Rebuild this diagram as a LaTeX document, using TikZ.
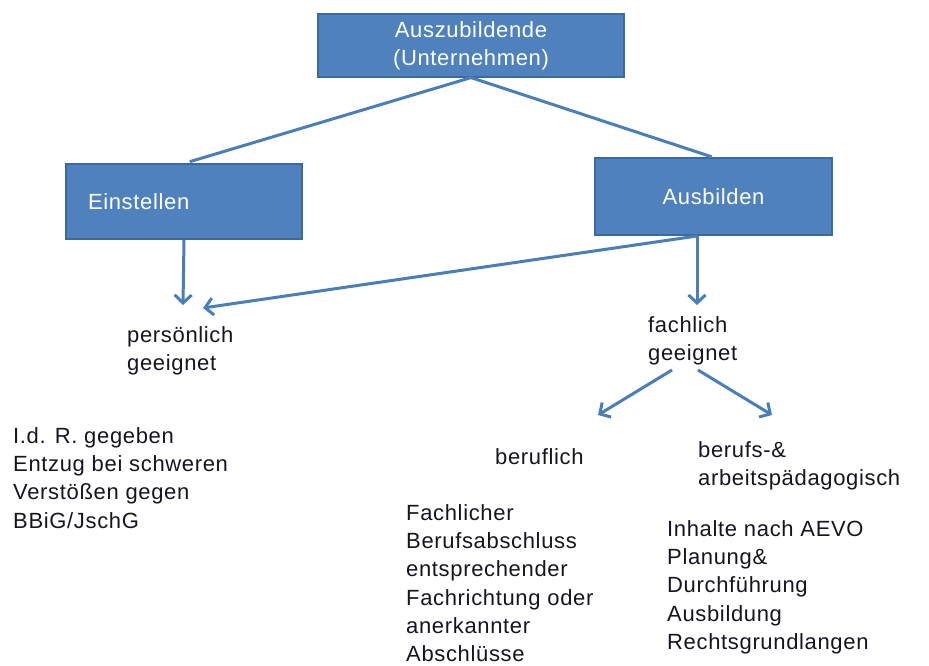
\documentclass[tikz,border=0pt]{standalone}
\usepackage{fontspec}
\setmainfont{Liberation Sans}[LetterSpace=3]
\usetikzlibrary{arrows.meta}
\definecolor{kastenblau}{HTML}{4F81BD}
\definecolor{randblau}{HTML}{3C69A0}
\definecolor{linienblau}{HTML}{4A7EBB}
\definecolor{schrift}{HTML}{151520}
\newcommand{\gross}{\fontsize{22}{28.3}\selectfont}

\tikzset{
  kasten/.style={draw=randblau, line width=1.2pt, fill=kastenblau, text=white,
    font=\gross, align=center, inner sep=0pt},
  txt/.style={anchor=north west, inner sep=0pt, align=left, text=schrift, font=\gross},
  linie/.style={draw=linienblau, line width=3pt},
  pfeil/.style={linie, ->}
}

\begin{document}
\begin{tikzpicture}[x=1pt,y=-1pt,>={Straight Barb[length=8pt,width=17pt]}]
\useasboundingbox (0,0) rectangle (929,666);

% Kaesten
\node[kasten, minimum width=306pt, minimum height=63pt] (azubi) at (471,45.5)
  {Auszubildende\\(Unternehmen)};
\node[kasten, minimum width=236pt, minimum height=75pt, text width=192pt,
  align=left, inner xsep=22pt] (ein) at (184,201.5) {Einstellen};
\node[kasten, minimum width=237pt, minimum height=77pt] (aus) at (713.5,196.5) {Ausbilden};

% Texte
\node[txt] (pers) at (127,326) {persönlich\\geeignet};
\node[txt] (fach) at (648,316) {fachlich\\geeignet};
\node[txt] (beruf) at (495,448) {beruflich};
\node[txt] (paed) at (698,441) {berufs-\&\\arbeitspädagogisch};
\node[txt] (perstxt) at (13,427) {I.d. R. gegeben\\Entzug bei schweren\\Verstößen gegen\\BBiG/JschG};
\node[txt] (beruftxt) at (406,504) {Fachlicher\\Berufsabschluss\\entsprechender\\Fachrichtung oder\\anerkannter\\Abschlüsse};
\node[txt] (paedtxt) at (667,520) {Inhalte nach AEVO\\Planung\&\\Durchführung\\Ausbildung\\Rechtsgrundlangen};

% Hilfspunkte
\coordinate (ausfuss) at (697,236);
\coordinate (persspitze) at (183,305);
\coordinate (persspitze2) at (203,308);
\coordinate (fachspitze) at (697,305);
\coordinate (fachl) at (672,370);
\coordinate (fachr) at (698,370);
\coordinate (berufspitze) at (598,415);
\coordinate (paedspitze) at (772,415);

% Verbindungen
\draw[linie, shorten >=6pt] (azubi.south) -- (ein.north);
\draw[linie, shorten >=2pt] (azubi.south) -- (aus.north);
\draw[pfeil] (ein.south) -- (persspitze);
\draw[pfeil] (ausfuss) -- (fachspitze);
\draw[pfeil] (ausfuss) -- (persspitze2);
\draw[pfeil] (fachl) -- (berufspitze);
\draw[pfeil] (fachr) -- (paedspitze);
\end{tikzpicture}
\end{document}
